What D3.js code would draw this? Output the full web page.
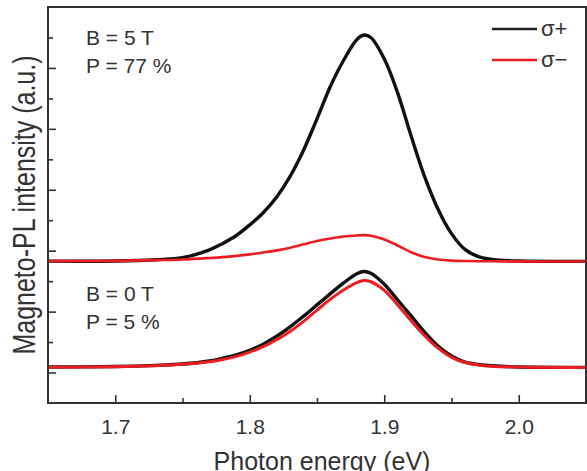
<!DOCTYPE html>
<html>
<head>
<meta charset="utf-8">
<script src="https://cdn.jsdelivr.net/npm/d3@7"></script>
<style>
  body { margin: 0; background: #fff; }
  text { font-family: "Liberation Sans", Arial, sans-serif; fill: #333; }
</style>
</head>
<body>
<div id="chart"></div>
<script>
(function () {
  'use strict';

  var energy = [1.65, 1.70, 1.73, 1.75, 1.77, 1.78, 1.79, 1.80, 1.81, 1.82, 1.83, 1.84, 1.85, 1.86, 1.87,
                1.88, 1.885, 1.89, 1.90, 1.91, 1.92, 1.93, 1.94, 1.95, 1.96, 1.97, 1.98, 2.00, 2.05];

  // B = 5 T, offset traces (a.u.)
  var highPlus = [4.656, 4.662, 4.705, 4.770, 5.026, 5.240, 5.498, 5.846, 6.246, 6.764, 7.443, 8.300, 9.330, 10.400, 11.269,
                  11.951, 12.082, 12.0, 11.298, 10.174, 8.764, 7.433, 6.364, 5.561, 5.043, 4.803, 4.711, 4.662, 4.649];
  var highMinus = [4.656, 4.666, 4.689, 4.711, 4.760, 4.790, 4.830, 4.880, 4.940, 5.010, 5.100, 5.210, 5.320, 5.400, 5.465,
                   5.500, 5.510, 5.490, 5.370, 5.170, 4.950, 4.790, 4.710, 4.675, 4.662, 4.655, 4.652, 4.649, 4.646];

  // B = 0 T traces (a.u.)
  var zeroPlus = [1.180, 1.197, 1.235, 1.280, 1.380, 1.470, 1.580, 1.730, 1.930, 2.190, 2.500, 2.850, 3.220, 3.590, 3.950,
                  4.250, 4.315, 4.260, 3.900, 3.380, 2.860, 2.330, 1.870, 1.540, 1.345, 1.265, 1.222, 1.184, 1.170];
  var zeroMinus = [1.177, 1.190, 1.225, 1.270, 1.351, 1.430, 1.530, 1.670, 1.850, 2.080, 2.350, 2.680, 3.050, 3.410, 3.720,
                   3.960, 4.025, 3.980, 3.700, 3.220, 2.700, 2.210, 1.800, 1.500, 1.330, 1.250, 1.210, 1.180, 1.167];

  var xMajor = [1.7, 1.8, 1.9, 2.0],
      xMinor = [1.75, 1.85, 1.95],
      yMajor = [1, 3, 5, 7, 9, 11],
      yMinor = [2, 4, 6, 8, 10, 12];

  var legendLabels = ['σ+', 'σ−'];
  var notes = [['B = 5 T', 'P = 77 %'], ['B = 0 T', 'P = 5 %']];

  var width = 587,
      height = 471,
      margin = {left: 48, top: 7, right: 1, bottom: 68},
      innerW = width - margin.left - margin.right,
      innerH = height - margin.top - margin.bottom;

  var black = '#111',
      red = '#ee1d23',
      axisColor = '#333';

  var svg = d3.select('#chart').append('svg')
      .attr('width', width)
      .attr('height', height);

  var g = svg.append('g')
      .attr('transform', 'translate(' + margin.left + ',' + margin.top + ')');

  var x = d3.scaleLinear().domain([1.65, 2.05]).range([0, innerW]);
  var y = d3.scaleLinear().domain([0, 13]).range([innerH, 0]);

  function styleTicks(s) {
    s.select('.domain').remove();
    s.selectAll('line').attr('stroke', axisColor).attr('stroke-width', 1.6);
  }

  // ticks, inward
  g.append('g')
      .attr('transform', 'translate(0,' + innerH + ')')
      .call(d3.axisBottom(x).tickValues(xMajor).tickSize(-8).tickPadding(16).tickFormat(d3.format('.1f')))
      .call(styleTicks)
      .call(function (s) {
        s.selectAll('text').attr('font-size', 21).attr('fill', axisColor)
            .style('font-family', '"Liberation Sans", Arial, sans-serif');
      });

  g.append('g')
      .attr('transform', 'translate(0,' + innerH + ')')
      .call(d3.axisBottom(x).tickValues(xMinor).tickSize(-5).tickFormat(''))
      .call(styleTicks);

  g.append('g')
      .call(d3.axisLeft(y).tickValues(yMajor).tickSize(-8).tickFormat(''))
      .call(styleTicks);

  g.append('g')
      .call(d3.axisLeft(y).tickValues(yMinor).tickSize(-5).tickFormat(''))
      .call(styleTicks);

  // traces
  var line = d3.line()
      .x(function (d) { return x(d[0]); })
      .y(function (d) { return y(d[1]); })
      .curve(d3.curveCatmullRom.alpha(0.5));

  var traces = [
    {values: highPlus, color: black, w: 3.4},
    {values: zeroPlus, color: black, w: 3.4},
    {values: highMinus, color: red, w: 2.6},
    {values: zeroMinus, color: red, w: 3}
  ];

  g.selectAll('.trace')
      .data(traces)
      .enter()
      .append('path')
      .attr('class', 'trace')
      .attr('fill', 'none')
      .attr('stroke', function (d) { return d.color; })
      .attr('stroke-width', function (d) { return d.w; })
      .attr('stroke-linejoin', 'round')
      .attr('d', function (d) { return line(d3.zip(energy, d.values)); });

  // frame
  g.append('rect')
      .attr('x', 0)
      .attr('y', 0)
      .attr('width', innerW)
      .attr('height', innerH)
      .attr('fill', 'none')
      .attr('stroke', axisColor)
      .attr('stroke-width', 2);

  // legend
  var legend = g.selectAll('.legend')
      .data(legendLabels)
      .enter()
      .append('g')
      .attr('class', 'legend')
      .attr('transform', function (d, i) { return 'translate(444,' + (22 + i * 31) + ')'; });

  legend.append('line')
      .attr('x1', 0).attr('x2', 45)
      .attr('stroke', function (d, i) { return i ? red : '#222'; })
      .attr('stroke-width', 2.6);

  legend.append('text')
      .attr('x', 49)
      .attr('y', 7)
      .attr('font-size', 22)
      .text(function (d) { return d; });

  // annotations
  var noteY = [45, 301];
  notes.forEach(function (pair, i) {
    pair.forEach(function (t, j) {
      svg.append('text')
          .attr('x', 86)
          .attr('y', noteY[i] + j * 28)
          .attr('font-size', 21)
          .text(t);
    });
  });

  // axis titles
  svg.append('text')
      .attr('x', margin.left + innerW / 2 + 5)
      .attr('y', 470)
      .attr('text-anchor', 'middle')
      .attr('font-size', 25)
      .text('Photon energy (eV)');

  svg.append('text')
      .attr('transform', 'translate(35,205) rotate(-90) scale(1,1.25)')
      .attr('text-anchor', 'middle')
      .attr('font-size', 25)
      .text('Magneto-PL intensity (a.u.)');
}());
</script>
</body>
</html>
